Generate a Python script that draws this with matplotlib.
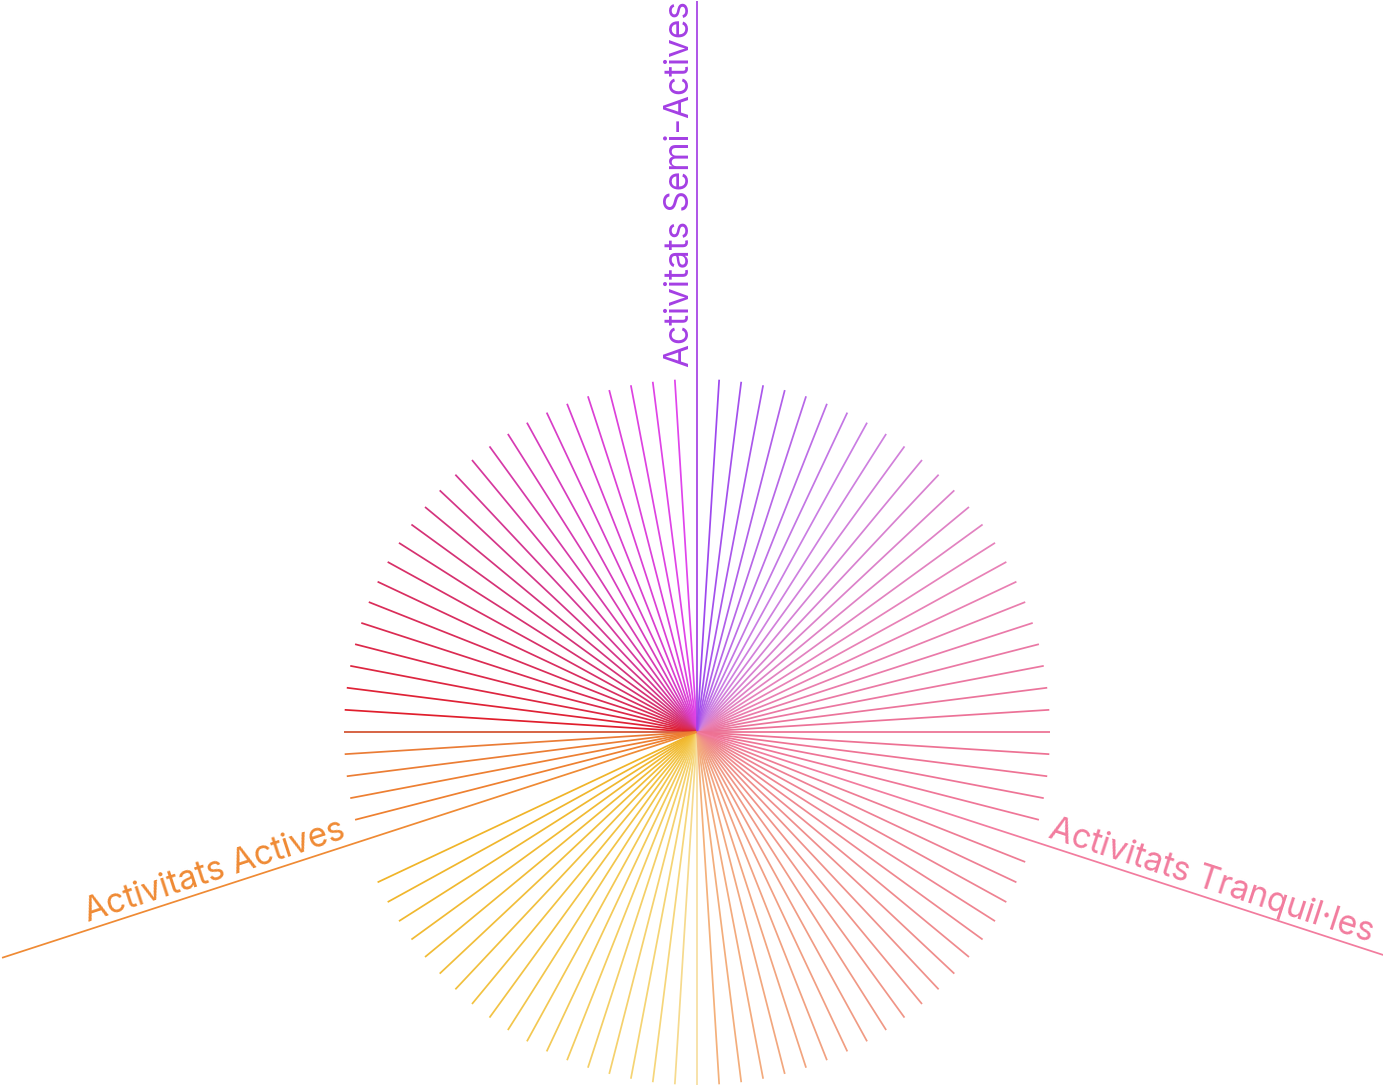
import numpy as np
import matplotlib.pyplot as plt
from matplotlib.collections import LineCollection
from matplotlib.colors import to_rgb

# categories (axis labels), the angle of their axis and their colour
categories = ["Activitats Semi-Actives", "Activitats Actives", "Activitats Tranquil·les"]
category_angle = [90, 198, 342]
category_color = ["#a43fe4", "#ef8a34", "#f27c9e"]

# rays: one every 3.6 degrees, one slot left empty
ray_step = 3.6
ray_count = 100
empty_rays = [201.6]

# colour of the rays around the circle (angle in degrees, colour)
stop_angle = [-18.0, 0.0, 30.0, 60.0, 86.4, 93.6, 115.0, 140.0, 165.0, 176.4, 180.0,
              183.6, 194.4, 205.2, 235.0, 262.8, 270.0, 273.6, 300.0, 338.4]
stop_color = ["#f07898", "#ec6f92", "#e882b8", "#cc80e2", "#9d48ee", "#e044ec", "#d83ec8",
              "#d4347e", "#dc2a4c", "#e01e2c", "#d2502e",
              "#ea7c36", "#ee8030", "#f0b428", "#f2c446", "#f6d67a", "#f6dea0", "#f4b07a",
              "#f09a84", "#ee7c94"]


def ray_colour(a):
    a = (a + 18.0) % 360.0 - 18.0
    xs = np.array(stop_angle + [342.0])
    rgb = np.array([to_rgb(c) for c in stop_color + [stop_color[0]]])
    return tuple(np.interp(a, xs, rgb[:, k]) for k in range(3))


def main():
    fig = plt.figure(figsize=(13.83, 10.88), dpi=100)
    ax = fig.add_axes([0, 0, 1, 1])

    r_px = 353.0
    cx, cy = 697.0, 732.0
    ax.set_xlim(-cx / r_px, (1383 - cx) / r_px)
    ax.set_ylim(-(1088 - cy) / r_px, cy / r_px)
    ax.set_aspect("equal")
    ax.axis("off")

    angles = np.round(np.arange(ray_count) * ray_step, 1)
    segs, cols = [], []
    for a in angles:
        if a in empty_rays or a in category_angle:
            continue
        t = np.deg2rad(a)
        segs.append([(0, 0), (np.cos(t), np.sin(t))])
        cols.append(ray_colour(a))
    ax.add_collection(LineCollection(segs, colors=cols, linewidths=1.25,
                                     capstyle="butt"))

    # long axis lines with their labels
    axis_len = 2.07
    for name, a, c in zip(categories, category_angle, category_color):
        t = np.deg2rad(a)
        ax.plot([0, axis_len * np.cos(t)], [0, axis_len * np.sin(t)],
                color=c, lw=1.25, solid_capstyle="butt")
        d = 1.035
        gap = 0.022
        # offset to the side the text stands on
        if a == 90:
            px, py = -gap, 0
            rot, ha = 90, "left"
        elif a < 270:
            px, py = -np.sin(t) * -gap, np.cos(t) * -gap
            rot, ha = a - 180, "right"
        else:
            px, py = -np.sin(t) * gap, np.cos(t) * gap
            rot, ha = a - 360, "left"
        ax.text(d * np.cos(t) + px, d * np.sin(t) + py, name, color=c,
                fontsize=24, rotation=rot, rotation_mode="anchor",
                ha=ha, va="baseline", family=["Inter", "DejaVu Sans"])

    fig.savefig("out.png", dpi=100, facecolor="white")


if __name__ == "__main__":
    main()
